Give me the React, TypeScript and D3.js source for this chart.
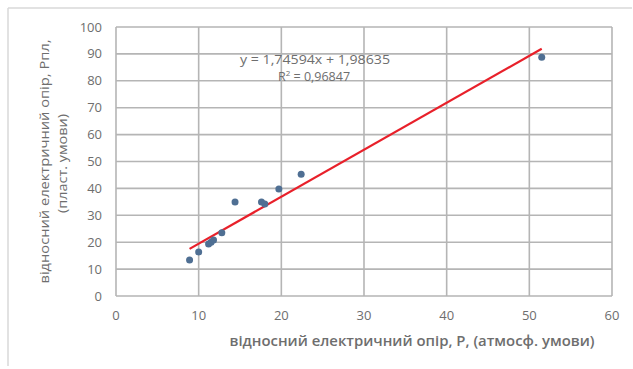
import React from "react";
import * as d3 from "d3";

const xValues = [8.9, 10.0, 11.2, 11.5, 11.8, 12.8, 14.4, 17.6, 18.0, 19.7, 22.4, 51.5];
const yValues = [13.4, 16.4, 19.3, 20.0, 20.8, 23.5, 34.9, 34.9, 34.2, 39.8, 45.3, 88.8];
const xTicks = [0, 10, 20, 30, 40, 50, 60];
const yTicks = [0, 10, 20, 30, 40, 50, 60, 70, 80, 90, 100];
const slope = 1.74594;
const intercept = 1.98635;
const eqLabel = "y = 1,74594x + 1,98635";
const r2Value = " = 0,96847";
const xTitle = "відносний електричний опір, Р, (атмосф. умови)";
const yTitle1 = "відносний електричний опір, Рпл,";
const yTitle2 = "(пласт. умови)";

const W = 633;
const H = 369;
const L = 116, R = 612, T = 27, B = 296;
const font = "'Open Sans', 'DejaVu Sans', sans-serif";
const textColor = "#6e6e6e";

export default function App() {
  const x = d3.scaleLinear().domain([0, 60]).range([L, R]);
  const y = d3.scaleLinear().domain([0, 100]).range([B, T]);
  const xMin = d3.min(xValues) as number;
  const xMax = d3.max(xValues) as number;
  const line = d3.line<number>().x((d) => x(d)).y((d) => y(slope * d + intercept));
  const pts = xValues.map((v, i) => ({ x: v, y: yValues[i] }));
  const yc = (T + B) / 2;
  return (
    <svg width={W} height={H} style={{ position: "absolute", left: 0, top: 0, background: "#fff" }}>
      <rect x={0} y={0} width={W} height={H} fill="#fff" />
      <line x1={8} x2={632} y1={8} y2={8} stroke="#d9d9d9" strokeWidth={1.5} />
      <line x1={8} x2={8} y1={8} y2={366} stroke="#d9d9d9" strokeWidth={1.5} />
      {yTicks.map((t) => (
        <line key={"gy" + t} x1={L} x2={R} y1={y(t)} y2={y(t)} stroke="#b5b5b5" strokeWidth={1.6} />
      ))}
      {xTicks.map((t) => (
        <line key={"gx" + t} x1={x(t)} x2={x(t)} y1={T} y2={B} stroke="#b5b5b5" strokeWidth={1.6} />
      ))}
      {yTicks.map((t) => (
        <text key={"ty" + t} x={102} y={y(t)} dy="0.35em" textAnchor="end" fontFamily={font} fontSize={13} fill={textColor}>
          {t}
        </text>
      ))}
      {xTicks.map((t) => (
        <text key={"tx" + t} x={x(t)} y={315} dy="0.35em" textAnchor="middle" fontFamily={font} fontSize={13} fill={textColor}>
          {t}
        </text>
      ))}
      <path d={line([xMin, xMax]) || ""} stroke="#e8202a" strokeWidth={2.2} fill="none" />
      {pts.map((p, i) => (
        <circle key={i} cx={x(p.x)} cy={y(p.y)} r={3.5} fill="#4f6f93" />
      ))}
      <text x={315} y={60} dy="0.35em" textAnchor="middle" fontFamily={font} fontSize={12.5} fill={textColor} textLength={150} lengthAdjust="spacingAndGlyphs">
        {eqLabel}
      </text>
      <text x={314} y={77} dy="0.35em" textAnchor="middle" fontFamily={font} fontSize={12.5} fill={textColor}>
        R<tspan dy="-5" fontSize={8}>2</tspan><tspan dy="5">{r2Value}</tspan>
      </text>
      <text x={412} y={341} dy="0.35em" textAnchor="middle" fontFamily={font} fontSize={13.5} fontWeight={600} fill={textColor} textLength={365} lengthAdjust="spacingAndGlyphs">
        {xTitle}
      </text>
      <g transform={`translate(44, ${yc}) rotate(-90)`}>
        <text x={0} y={0} dy="0.35em" textAnchor="middle" fontFamily={font} fontSize={13} fill={textColor} textLength={244} lengthAdjust="spacingAndGlyphs">
          {yTitle1}
        </text>
      </g>
      <g transform={`translate(62, ${yc + 2}) rotate(-90)`}>
        <text x={0} y={0} dy="0.35em" textAnchor="middle" fontFamily={font} fontSize={13} fill={textColor} textLength={99} lengthAdjust="spacingAndGlyphs">
          {yTitle2}
        </text>
      </g>
    </svg>
  );
}
